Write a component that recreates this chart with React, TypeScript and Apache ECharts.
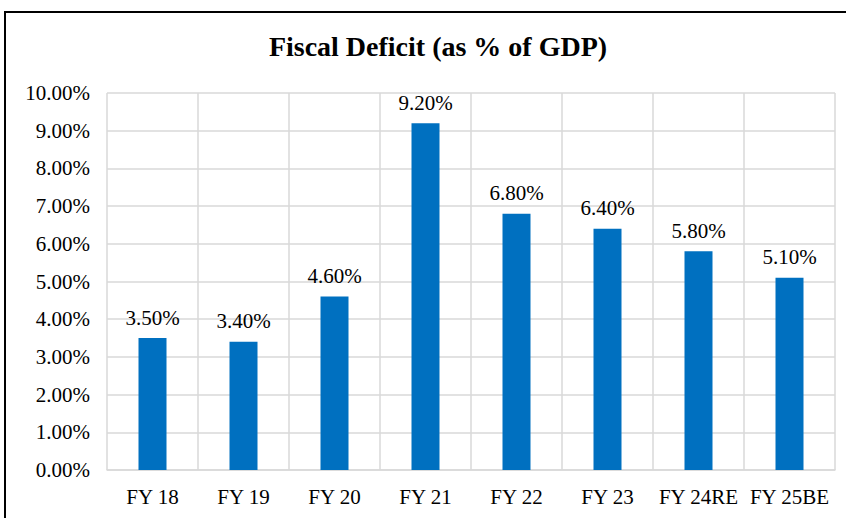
import React, { useEffect, useRef } from "react";
import * as echarts from "echarts";

const categories = ["FY 18", "FY 19", "FY 20", "FY 21", "FY 22", "FY 23", "FY 24RE", "FY 25BE"];
const deficitValues = [3.5, 3.4, 4.6, 9.2, 6.8, 6.4, 5.8, 5.1];
const titleText = "Fiscal Deficit (as % of GDP)";

export default function App() {
  const ref = useRef<HTMLDivElement>(null);
  useEffect(() => {
    if (!ref.current) return;
    const chart = echarts.init(ref.current, null, { renderer: "svg" });
    const font = "'Liberation Serif', 'Times New Roman', serif";
    chart.setOption({
      animation: false,
      backgroundColor: "#ffffff",
      textStyle: { fontFamily: font },
      title: {
        text: titleText,
        left: 433,
        textAlign: "center",
        top: 27,
        textStyle: { fontFamily: font, fontSize: 28, fontWeight: "bold", color: "#000" },
      },
      grid: { left: 107, right: 11, top: 93, bottom: 48, containLabel: false },
      xAxis: {
        type: "category",
        data: categories,
        axisTick: { show: false },
        axisLine: { show: true, lineStyle: { color: "#d9d9d9", width: 1.5 } },
        axisLabel: { color: "#000", fontSize: 21, fontFamily: font, margin: 16, interval: 0 },
        splitLine: { show: true, interval: 0, lineStyle: { color: "#d9d9d9", width: 1.5 } },
      },
      yAxis: {
        type: "value",
        min: 0,
        max: 10,
        interval: 1,
        axisLine: { show: false },
        axisTick: { show: false },
        axisLabel: {
          color: "#000",
          fontSize: 21,
          fontFamily: font,
          margin: 17,
          formatter: (v: number) => v.toFixed(2) + "%",
        },
        splitLine: { show: true, lineStyle: { color: "#d9d9d9", width: 1.5 } },
      },
      series: [
        {
          type: "bar",
          data: deficitValues,
          barWidth: 28,
          itemStyle: { color: "#0070C0" },
          label: {
            show: true,
            position: "top",
            distance: 10,
            color: "#000",
            fontSize: 21,
            fontFamily: font,
            formatter: (p: any) => p.value.toFixed(2) + "%",
          },
        },
      ],
      graphic: [
        {
          type: "rect",
          shape: { x: 5, y: 12, width: 860, height: 530 },
          style: { fill: "none", stroke: "#000", lineWidth: 2 },
          silent: true,
        },
      ],
    });
    return () => chart.dispose();
  }, []);
  return (
    <div
      ref={ref}
      style={{ position: "absolute", left: 0, top: 0, width: 846, height: 518 }}
    />
  );
}
